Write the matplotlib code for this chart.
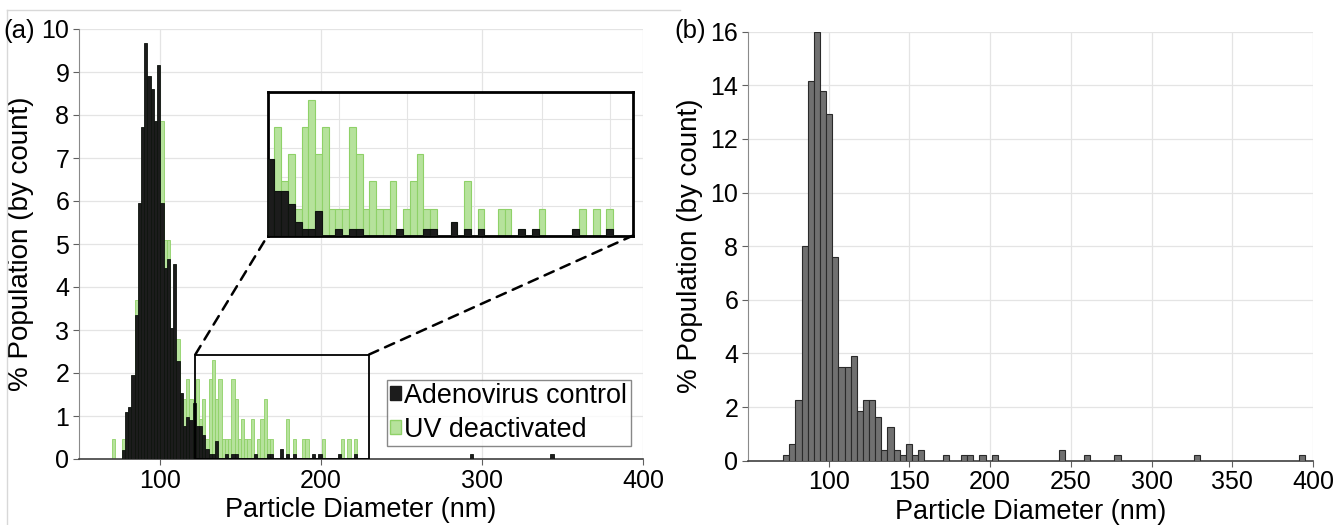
import matplotlib
matplotlib.use('Agg')
import matplotlib.pyplot as plt
from matplotlib.patches import Rectangle, ConnectionPatch
from matplotlib.lines import Line2D

plt.rcParams['font.family'] = ['Liberation Sans', 'DejaVu Sans']

# ---------------- data ----------------
# Panel (a): 2 nm bins, bin centres (nm) and % population
ctrl_diam = [77.5, 79.5, 81.5, 83.5, 85.5, 87.5, 89.5, 91.5, 93.5, 95.5, 97.5, 99.5,
             101.5, 103.5, 105.5, 107.5, 109.5, 111.5, 113.5, 115.5, 117.5, 119.5,
             121.5, 123.5, 125.5, 127.5, 129.5, 131.5, 133.5, 135.5, 141.5, 145.5,
             147.5, 159.5, 167.5, 169.5, 175.5, 179.5, 183.5, 195.5, 199.5, 211.5,
             221.5, 293.5, 343.5]
ctrl_pct = [0.21, 1.10, 1.20, 1.95, 3.35, 5.95, 7.73, 9.67, 8.91, 8.60, 7.87, 9.16,
            5.95, 4.44, 4.64, 3.05, 4.53, 2.29, 1.53, 0.77, 0.98, 0.90,
            1.31, 0.76, 0.76, 0.55, 0.23, 0.11, 0.11, 0.43, 0.11, 0.11,
            0.11, 0.11, 0.11, 0.11, 0.23, 0.11, 0.11, 0.11, 0.11, 0.11,
            0.11, 0.11, 0.11]

uv_diam = [71.5, 77.5, 85.5, 101.5, 103.5, 105.5, 111.5, 115.5, 117.5, 119.5,
           123.5, 125.5, 127.5, 129.5, 131.5, 133.5, 135.5, 137.5, 139.5, 141.5,
           143.5, 145.5, 147.5, 149.5, 151.5, 153.5, 155.5, 157.5, 161.5, 163.5,
           165.5, 167.5, 169.5, 179.5, 183.5, 189.5, 191.5, 201.5, 213.5, 217.5, 221.5]
uv_pct = [0.46, 0.46, 3.70, 7.87, 5.09, 5.09, 2.78, 1.39, 1.85, 1.39,
          1.85, 0.93, 1.39, 0.46, 1.85, 2.31, 1.39, 1.85, 0.46, 0.46,
          0.46, 1.85, 1.39, 0.46, 0.93, 0.46, 0.46, 0.93, 0.46, 0.93,
          1.39, 0.46, 0.46, 0.93, 0.46, 0.46, 0.46, 0.46, 0.46, 0.46, 0.46]

# Panel (b)
b_diam = [73.7, 77.5, 81.3, 85.1, 88.9, 92.7, 96.5, 100.3, 104.1, 107.9, 111.7,
          115.5, 119.3, 123.1, 126.9, 130.7, 134.5, 138.3, 142.1, 145.9, 149.7,
          153.5, 157.3, 172.5, 183.9, 187.7, 195.3, 202.9, 244.7, 259.9, 278.9,
          328.3, 393.3]
b_pct = [0.21, 0.61, 2.26, 8.0, 14.16, 16.0, 13.77, 12.93, 7.6, 3.48, 3.48,
         3.89, 1.85, 2.26, 2.26, 1.64, 0.41, 1.24, 0.41, 0.21, 0.61,
         0.21, 0.41, 0.21, 0.21, 0.21, 0.21, 0.21, 0.41, 0.21, 0.21,
         0.21, 0.21]

a_xticks = [100, 200, 300, 400]
a_yticks = list(range(0, 11))
b_xticks = [100, 150, 200, 250, 300, 350, 400]
b_yticks = list(range(0, 17, 2))
series_labels = ['Adenovirus control', 'UV deactivated']
xlabel = 'Particle Diameter (nm)'
ylabel = '% Population (by count)'

# ---------------- style ----------------
W, H = 1338, 525
BIN_A = 2.0
BIN_B = 3.8
BLACK = '#1c1c1c'
BLACK_EDGE = '#0e140e'
GREEN = '#b6e29c'
GREEN_EDGE = '#8fd168'
GRAY = '#707070'
GRAY_EDGE = '#2a2a2a'
GRID = '#e4e4e4'
TICK_FS = 18
XLABEL_FS = 19.5
YLABEL_FS = 20
PANEL_FS = 18.5
LEG_FS = 19.4


def box(l, t, r, b):
    return [l / W, 1 - b / H, (r - l) / W, (b - t) / H]


fig = plt.figure(figsize=(W / 100, H / 100), dpi=100)

# faint frame around panel (a)
fig.add_artist(Line2D([7 / W, 680 / W], [1 - 10 / H, 1 - 10 / H], transform=fig.transFigure,
                      color='#d8d8d8', lw=1))
fig.add_artist(Line2D([7 / W, 7 / W], [1 - 10 / H, 0], transform=fig.transFigure,
                      color='#d8d8d8', lw=1))


def style_axes(ax, xlim, ylim, xticks, yticks):
    ax.set_xlim(*xlim)
    ax.set_ylim(*ylim)
    ax.set_xticks(xticks)
    ax.set_yticks(yticks)
    ax.grid(True, color=GRID, lw=0.9, zorder=0)
    ax.set_axisbelow(True)
    for s in ['top', 'right']:
        ax.spines[s].set_visible(False)
    ax.spines['left'].set_color('#8a8a8a')
    ax.spines['bottom'].set_color('#404040')
    ax.spines['bottom'].set_linewidth(1.2)
    ax.tick_params(axis='both', labelsize=TICK_FS, direction='out', length=4,
                   color='#606060', pad=3)
    ax.set_xlabel(xlabel, fontsize=XLABEL_FS, labelpad=3)
    ax.set_ylabel(ylabel, fontsize=YLABEL_FS, labelpad=5)


# ---------------- panel (a) ----------------
ax = fig.add_axes(box(79, 29, 643, 459))
style_axes(ax, (50, 400), (0, 10), a_xticks, a_yticks)
ax.bar(uv_diam, uv_pct, width=BIN_A, color=GREEN, edgecolor=GREEN_EDGE, lw=0.6, zorder=2)
ax.bar(ctrl_diam, ctrl_pct, width=BIN_A, color=BLACK, edgecolor=BLACK_EDGE, lw=0.6, zorder=3)

h_ctrl = Rectangle((0, 0), 1, 1, facecolor=BLACK, edgecolor=BLACK)
h_uv = Rectangle((0, 0), 1, 1, facecolor=GREEN, edgecolor=GREEN_EDGE)
leg = ax.legend([h_ctrl, h_uv], series_labels, loc='lower right',
                bbox_to_anchor=(0.978, 0.03), fontsize=LEG_FS, frameon=True,
                fancybox=False, edgecolor='#6a6a6a', handlelength=0.42,
                handleheight=0.42, handletextpad=0.12, borderpad=0.12,
                labelspacing=0.3, borderaxespad=0)
leg.get_frame().set_linewidth(1.0)
leg.set_zorder(6)

# zoom rectangle in the main axes
ZX0, ZX1, ZY1 = 122.2, 230.0, 2.43
ax.add_patch(Rectangle((ZX0, 0), ZX1 - ZX0, ZY1, fill=False, edgecolor='black',
                       lw=1.3, zorder=5))

# inset
axi = fig.add_axes(box(267.7, 92.3, 632.7, 235.7))
axi.bar(uv_diam, uv_pct, width=BIN_A, color=GREEN, edgecolor=GREEN_EDGE, lw=0.8, zorder=2)
axi.bar(ctrl_diam, ctrl_pct, width=BIN_A, color=BLACK, edgecolor=BLACK_EDGE, lw=0.8, zorder=3)
axi.set_xlim(120.5, 228.3)
axi.set_ylim(0, 2.45)
axi.set_xticks([141.5, 161.5, 181.5, 201.5, 221.5])
axi.set_yticks([0.5, 1.0, 1.5, 2.0])
axi.grid(True, color=GRID, lw=0.8, zorder=0)
axi.set_axisbelow(True)
axi.tick_params(left=False, bottom=False, labelleft=False, labelbottom=False)
for s in axi.spines.values():
    s.set_linewidth(2.0)
    s.set_color('black')

for (xa, xb) in [((ZX0, ZY1), (0, 0)), ((ZX1, ZY1), (1, 0))]:
    con = ConnectionPatch(xyA=xa, coordsA=ax.transData, xyB=xb, coordsB=axi.transAxes,
                          linestyle=(0, (4, 3)), color='black', lw=1.8)
    fig.add_artist(con)

fig.text(3 / W, 1 - 31 / H, '(a)', fontsize=PANEL_FS, va='center', ha='left')

# ---------------- panel (b) ----------------
bx = fig.add_axes(box(748, 31.7, 1313, 460.7))
style_axes(bx, (50, 400), (0, 16), b_xticks, b_yticks)
bx.bar(b_diam, b_pct, width=BIN_B, color=GRAY, edgecolor=GRAY_EDGE, lw=0.8, zorder=3)
fig.text(674 / W, 1 - 31 / H, '(b)', fontsize=PANEL_FS, va='center', ha='left')

fig.savefig('out.png', dpi=100)
